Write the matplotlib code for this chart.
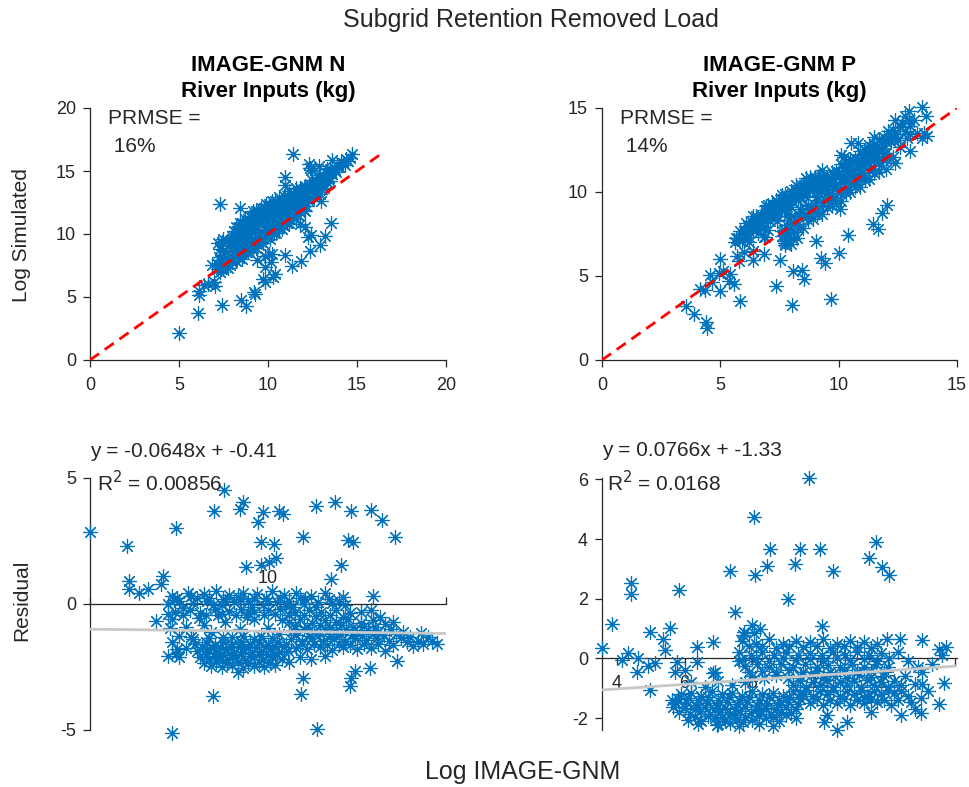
import numpy as np
import matplotlib.pyplot as plt

plt.rcParams['font.family'] = ['Liberation Sans', 'DejaVu Sans']
plt.rcParams['axes.unicode_minus'] = False

BLUE = '#0072BD'
DARK = '#262626'

# ---------------- N: (log IMAGE-GNM, residual)
n_outliers = [
    (5.0, 2.85), (6.05, 2.32), (7.41, 3.01), (6.1, 0.93), (6.1, 0.6), (6.38, 0.44),
    (6.62, 0.6), (6.99, 0.8), (7.04, 1.13), (8.77, 4.51), (8.49, 3.71), (9.2, 3.78),
    (9.29, 4.05), (9.85, 3.65), (9.71, 3.25), (10.3, 3.71), (10.42, 3.58), (9.81, 2.45),
    (10.18, 2.39), (10.23, 1.83), (10.04, 1.66), (9.81, 1.53), (9.38, 1.46), (10.98, 2.65),
    (11.36, 3.87), (11.87, 4.05), (12.34, 3.71), (12.9, 3.75), (13.19, 3.32), (13.56, 2.65),
    (12.25, 2.52), (12.39, 2.45), (12.06, 1.53), (11.78, 0.99), (12.95, 0.33), (8.45, -3.65),
    (7.3, -5.1), (11.38, -4.95), (10.93, -3.58), (10.98, -2.92), (12.34, -2.92), (12.3, -3.25),
    (12.44, -2.65), (12.86, -2.52), (13.61, -2.25), (14.74, -1.59), (14.36, -1.59),
    (14.08, -1.66), (6.85, -0.66), (7.41, -1.99),
]
n_upper = [
    (7.3, 0.3), (7.75, 0.42), (8.2, 0.38), (8.55, 0.5), (8.9, 0.35), (9.3, 0.45), (9.7, 0.4),
    (10.1, 0.52), (10.45, 0.36), (10.8, 0.44), (11.2, 0.3), (11.6, 0.42), (12.1, 0.28),
    (7.2, 0.0), (7.5, 0.1), (7.9, 0.05), (8.3, 0.12), (8.7, -0.02), (9.05, 0.08), (9.45, 0.1),
    (9.85, -0.05), (10.25, 0.06), (10.6, 0.12), (11.0, 0.0), (11.4, 0.08), (11.8, 0.02),
    (12.15, -0.05), (7.4, -0.3), (7.8, -0.22), (8.1, -0.35), (8.5, -0.2), (8.9, -0.28),
    (9.25, -0.18), (9.6, -0.32), (10.0, -0.25), (10.35, -0.2), (10.75, -0.3), (11.15, -0.22),
    (11.5, -0.3), (11.9, -0.25), (12.3, -0.35), (8.0, 0.25), (8.45, -0.05), (9.15, 0.28),
    (9.55, -0.1), (10.5, -0.08), (10.9, 0.25), (9.95, 0.22), (8.75, 0.2),
    (7.45, 0.22), (7.85, 0.3), (8.35, 0.25), (8.8, 0.1), (9.2, 0.18), (9.6, 0.25), (10.0, 0.1),
    (10.35, 0.25), (10.7, -0.12), (11.05, 0.18), (11.35, -0.1), (11.7, 0.2), (12.0, 0.1),
    (7.6, -0.45), (8.25, -0.45), (8.7, -0.4), (9.1, -0.45), (9.45, -0.35), (9.9, -0.45),
    (10.2, -0.4), (10.6, -0.45), (11.0, -0.42), (11.35, -0.48), (11.75, -0.45), (12.1, -0.5),
]
n_middle = [
    (7.3, -0.6), (7.7, -0.9), (8.05, -0.55), (8.4, -1.1), (8.8, -0.7), (9.2, -1.0), (9.6, -0.6),
    (10.0, -0.95), (10.4, -0.65), (7.5, -1.25), (8.2, -0.85), (9.0, -1.3), (9.8, -1.25),
    (10.3, -1.2), (7.9, -1.4), (8.6, -0.45), (9.4, -0.5), (7.2, -0.4), (7.25, -0.95),
    (7.3, -1.5), (7.45, -1.8), (7.2, -2.05), (7.6, -0.15), (7.35, 0.15),
    (7.85, -1.3), (8.35, -1.35), (8.75, -1.3), (9.3, -1.25), (9.6, -1.38), (10.1, -1.35),
]
n_lower = [
    (7.95, -1.6), (8.25, -1.5), (8.5, -1.62), (8.75, -1.5), (9.0, -1.58), (9.25, -1.5),
    (9.5, -1.6), (9.75, -1.52), (10.0, -1.62), (10.25, -1.5), (10.5, -1.58),
    (8.0, -1.88), (8.3, -1.8), (8.55, -1.92), (8.8, -1.82), (9.05, -1.9), (9.3, -1.8),
    (9.55, -1.9), (9.8, -1.85), (10.05, -1.8), (10.3, -1.92), (10.55, -1.85),
    (8.1, -2.12), (8.35, -2.2), (8.6, -2.1), (8.85, -2.2), (9.1, -2.15), (9.35, -2.22),
    (9.6, -2.1), (9.85, -2.2), (10.1, -2.12), (10.4, -2.2),
    (8.4, -2.45), (8.7, -2.5), (9.0, -2.42), (9.3, -2.55), (9.6, -2.45), (9.9, -2.5),
    (10.2, -2.42), (7.7, -1.75), (7.5, -2.1), (9.15, -2.7), (10.6, -2.3), (8.2, -2.35),
    (8.15, -1.7), (8.45, -1.75), (8.65, -1.7), (8.95, -1.72), (9.2, -1.68), (9.45, -1.75),
    (9.7, -1.7), (9.95, -1.72), (10.2, -1.68), (10.45, -1.72), (8.25, -2.0), (8.5, -2.05),
    (8.75, -1.98), (9.0, -2.02), (9.25, -2.0), (9.5, -2.05), (9.75, -1.98), (10.0, -2.02),
    (10.25, -2.0), (8.55, -2.32), (8.85, -2.35), (9.15, -2.3), (9.45, -2.35), (9.75, -2.32),
    (10.05, -2.35),
]
n_right = [
    (10.6, -0.7), (10.9, -0.6), (11.25, -0.75), (11.6, -0.62), (11.9, -0.72), (12.25, -0.6),
    (12.6, -0.75), (12.95, -0.65), (13.3, -0.8),
    (10.7, -1.05), (11.0, -1.0), (11.3, -1.1), (11.6, -1.0), (11.9, -1.08), (12.2, -1.0),
    (12.5, -1.1), (12.8, -1.02), (13.1, -1.1), (13.45, -1.0), (13.8, -1.1),
    (10.65, -1.4), (10.95, -1.45), (11.25, -1.35), (11.55, -1.45), (11.85, -1.38),
    (12.15, -1.45), (12.45, -1.35), (12.75, -1.42), (13.05, -1.35), (13.4, -1.45), (13.75, -1.35),
    (10.8, -1.75), (11.1, -1.8), (11.45, -1.72), (11.8, -1.82), (12.1, -1.7), (12.5, -1.8),
    (12.9, -1.75), (13.3, -1.85), (12.6, -0.3), (12.9, -0.25), (13.15, -0.5), (13.5, -0.7),
    (14.0, -1.3), (14.3, -1.15), (14.6, -1.45), (13.9, -1.5), (10.9, -2.1), (11.2, -2.2),
    (11.6, -2.05),
    (10.75, -0.88), (11.1, -0.9), (11.45, -0.85), (11.75, -0.9), (12.05, -0.85), (12.4, -0.9),
    (12.7, -0.88), (13.0, -0.9), (10.8, -1.22), (11.15, -1.25), (11.45, -1.2), (11.75, -1.25),
    (12.05, -1.2), (12.35, -1.22), (12.65, -1.25), (12.95, -1.2), (13.25, -1.22), (13.6, -1.2),
    (10.95, -1.6), (11.3, -1.58), (11.65, -1.62), (12.0, -1.58), (12.3, -1.62), (12.7, -1.6),
    (13.1, -1.6), (13.5, -1.62), (14.2, -1.45), (14.5, -1.3),
]

# ---------------- P
p_outliers = [
    (9.67, 6.04), (8.04, 4.74), (8.53, 3.68), (9.42, 3.66), (10.01, 3.66), (9.27, 3.18),
    (8.45, 3.1), (8.09, 2.79), (7.35, 2.92), (10.39, 2.92), (11.67, 3.9), (11.45, 3.37),
    (11.84, 3.07), (12.04, 2.81), (9.05, 1.98), (7.5, 1.56), (4.43, 2.54), (4.41, 2.17),
    (5.85, 2.31), (3.87, 1.14), (3.55, 0.36), (4.98, 0.87), (5.57, 1.03), (5.37, 0.65),
    (5.42, 0.28), (4.34, 0.17), (4.14, -0.06), (4.63, 0.0), (4.58, -0.45), (4.93, -0.25),
    (5.13, -0.17), (4.98, -1.06), (5.77, -0.11), (5.72, -0.45), (6.01, -0.39), (6.36, 0.39),
    (6.36, -0.11), (6.85, 0.56), (6.85, -0.5), (10.06, 1.09), (7.99, 1.11), (8.24, 1.0),
    (7.74, 0.78), (5.62, -1.39), (5.67, -1.62), (13.72, 0.39), (13.52, 0.33), (13.03, 0.61),
    (12.37, 0.65), (11.99, 0.65), (13.67, -0.84), (13.52, -1.54), (12.98, -1.84),
    (12.98, -1.32), (13.03, -0.87), (13.03, -0.45), (12.68, -1.45), (10.11, -2.12),
    (10.21, -1.9), (10.51, -2.4), (10.8, -2.12), (11.3, -1.28), (6.95, -2.23), (7.35, -2.17),
    (7.74, -2.12),
]
p_lower = [
    (5.9, -1.2), (6.2, -1.15), (6.5, -1.25), (6.8, -1.1), (7.1, -1.2), (7.4, -1.15), (7.7, -1.25),
    (8.0, -1.1), (8.3, -1.2), (8.6, -1.15), (8.9, -1.25), (9.2, -1.1), (9.5, -1.2),
    (5.75, -1.5), (6.05, -1.45), (6.35, -1.55), (6.65, -1.48), (6.95, -1.55), (7.25, -1.45),
    (7.55, -1.52), (7.85, -1.45), (8.15, -1.55), (8.45, -1.48), (8.75, -1.55), (9.05, -1.45),
    (9.35, -1.52), (5.85, -1.8), (6.15, -1.85), (6.45, -1.75), (6.75, -1.85), (7.05, -1.78),
    (7.35, -1.85), (7.65, -1.75), (7.95, -1.82), (8.25, -1.75), (8.55, -1.85), (8.85, -1.78),
    (9.15, -1.82), (6.1, -2.05), (6.5, -2.1), (6.9, -2.0), (7.2, -2.1), (7.55, -2.02),
    (8.0, -2.08), (8.4, -2.0), (8.8, -2.1), (9.3, -2.0), (6.2, -0.8), (6.6, -0.95), (7.0, -0.75),
    (7.4, -0.9), (7.8, -0.8), (6.9, -0.45),
    (5.8, -1.35), (6.1, -1.32), (6.4, -1.38), (6.7, -1.3), (7.0, -1.38), (7.3, -1.3), (7.6, -1.38),
    (7.9, -1.3), (8.2, -1.38), (8.5, -1.3), (8.8, -1.38), (9.1, -1.3), (9.4, -1.36),
    (6.0, -1.65), (6.3, -1.68), (6.6, -1.62), (6.9, -1.7), (7.2, -1.65), (7.5, -1.68),
    (7.8, -1.62), (8.1, -1.7), (8.4, -1.65), (8.7, -1.68), (9.0, -1.62), (9.3, -1.68),
    (6.3, -1.95), (6.7, -1.92), (7.1, -1.95), (7.45, -1.9), (7.8, -1.95), (8.2, -1.92),
    (8.6, -1.95), (9.0, -1.9), (6.4, -2.2), (7.0, -2.2), (7.6, -2.25), (8.2, -2.2), (8.6, -2.25),
]
p_upper = [
    (7.7, 0.6), (8.1, 0.5), (8.5, 0.65), (8.9, 0.5), (9.3, 0.6), (9.7, 0.55), (10.1, 0.65),
    (10.5, 0.5), (10.9, 0.6), (11.3, 0.55), (11.7, 0.5),
    (7.6, 0.2), (7.95, 0.1), (8.3, 0.2), (8.65, 0.1), (9.0, 0.2), (9.35, 0.12), (9.7, 0.18),
    (10.05, 0.1), (10.4, 0.2), (10.75, 0.12), (11.1, 0.2), (11.45, 0.1), (11.8, 0.18),
    (7.8, -0.25), (8.15, -0.2), (8.5, -0.3), (8.85, -0.2), (9.2, -0.28), (9.55, -0.2),
    (9.9, -0.3), (10.25, -0.22), (10.6, -0.3), (10.95, -0.2), (11.3, -0.28), (11.65, -0.2),
    (12.0, -0.3), (8.0, -0.6), (8.35, -0.65), (8.7, -0.55), (9.05, -0.65), (9.4, -0.6),
    (9.75, -0.55), (10.1, -0.65), (10.45, -0.58), (10.8, -0.65), (11.15, -0.55), (11.5, -0.62),
    (11.85, -0.58), (7.75, 0.9), (8.05, 0.85), (7.6, -0.1),
    (7.9, 0.4), (8.3, 0.42), (8.7, 0.35), (9.1, 0.4), (9.5, 0.38), (9.9, 0.42), (10.3, 0.35),
    (10.7, 0.4), (11.1, 0.38), (11.5, 0.35), (7.7, -0.05), (8.1, -0.02), (8.5, -0.08),
    (8.9, 0.0), (9.3, -0.05), (9.7, -0.02), (10.1, -0.08), (10.5, 0.0), (10.9, -0.05),
    (11.3, -0.02), (11.7, -0.08), (12.05, 0.0), (7.9, -0.45), (8.3, -0.42), (8.7, -0.45),
    (9.1, -0.4), (9.5, -0.45), (9.9, -0.42), (10.3, -0.45), (10.7, -0.4), (11.1, -0.45),
    (11.5, -0.42), (11.9, -0.45),
]
p_right = [
    (9.2, -0.9), (9.6, -0.95), (10.0, -0.88), (10.4, -0.95), (10.8, -0.9), (11.2, -0.95),
    (11.6, -0.88), (12.0, -0.95), (12.4, -0.9), (12.8, -0.85),
    (9.4, -1.2), (9.8, -1.25), (10.2, -1.2), (10.6, -1.25), (11.0, -1.18), (11.4, -1.25),
    (11.8, -1.2), (12.2, -1.15), (12.6, -1.25),
    (9.7, -1.5), (10.1, -1.55), (10.5, -1.48), (10.9, -1.55), (11.3, -1.5), (11.7, -1.45),
    (12.1, -1.55), (12.3, 0.2), (12.6, -0.1), (12.9, -0.3), (13.3, -0.2), (13.6, 0.1),
    (12.5, -0.6), (13.2, -1.1), (12.8, -1.7), (12.4, -1.9), (11.5, -1.8),
    (9.4, -0.75), (9.8, -0.78), (10.2, -0.72), (10.6, -0.78), (11.0, -0.75), (11.4, -0.72),
    (11.8, -0.78), (12.2, -0.75), (9.6, -1.05), (10.0, -1.08), (10.4, -1.05), (10.8, -1.08),
    (11.2, -1.05), (11.6, -1.08), (12.0, -1.05), (12.4, -1.08), (9.9, -1.35), (10.3, -1.4),
    (10.7, -1.35), (11.1, -1.4), (11.5, -1.35), (11.9, -1.4), (12.3, -1.38),
]

n_fit_line = (-0.017, -0.915)   # drawn trend (slope, intercept) as seen
p_fit_line = (0.0766, -1.33)
n_eq = 'y = -0.0648x + -0.41'
n_r2 = 'R$^2$ = 0.00856'
p_eq = 'y = 0.0766x + -1.33'
p_r2 = 'R$^2$ = 0.0168'
n_prmse = 'PRMSE =\n 16%'
p_prmse = 'PRMSE =\n 14%'

n_pts = np.array(n_outliers + n_upper + n_middle + n_lower + n_right)
p_pts = np.array(p_outliers + p_lower + p_upper + p_right)
n_obs, n_res = n_pts[:, 0], n_pts[:, 1]
p_obs, p_res = p_pts[:, 0], p_pts[:, 1]
n_sim = n_obs - n_res
p_sim = p_obs - p_res

W, H = 970, 787
fig = plt.figure(figsize=(W / 100, H / 100), dpi=100)


def box(l, t, r, b):
    return [l / W, 1 - b / H, (r - l) / W, (b - t) / H]


ax1 = fig.add_axes(box(90, 108, 446, 360))
ax2 = fig.add_axes(box(602, 108, 957, 360))
ax3 = fig.add_axes(box(90, 478, 446, 730))
ax4 = fig.add_axes(box(602, 478, 957, 730))

mk = dict(marker=(8, 2, 0), linestyle='none', markersize=10.5, markeredgewidth=0.85,
          color=BLUE, clip_on=False)

for ax in (ax1, ax2, ax3, ax4):
    for s in ax.spines.values():
        s.set_color(DARK)
        s.set_linewidth(0.9)
    ax.tick_params(direction='out', length=5, width=0.9, colors=DARK, labelsize=13)
    ax.tick_params(axis='x', pad=7)
    ax.tick_params(axis='y', pad=5)

# top panels
for ax, obs, sim, lim, ticks, title, txt in [
        (ax1, n_obs, n_sim, 20, [0, 5, 10, 15, 20], 'IMAGE-GNM N\nRiver Inputs (kg)', n_prmse),
        (ax2, p_obs, p_sim, 15, [0, 5, 10, 15], 'IMAGE-GNM P\nRiver Inputs (kg)', p_prmse)]:
    ax.plot(obs, sim, **mk)
    top = max(obs.max(), sim.max())
    ax.plot([0, top], [0, top], color='red', linestyle=(0, (4, 2.5)), linewidth=2, zorder=3)
    ax.set_xlim(0, lim)
    ax.set_ylim(0, lim)
    ax.set_xticks(ticks)
    ax.set_yticks(ticks)
    ax.spines['top'].set_visible(False)
    ax.spines['right'].set_visible(False)
    ax.set_title(title, fontsize=16, fontweight='bold', pad=8, linespacing=1.3)
    ax.text(0.05, 0.995, txt, transform=ax.transAxes, ha='left', va='top',
            fontsize=15, color=DARK, linespacing=1.55)

# residual N
ax3.plot(n_obs, n_res, **mk)
xs = np.array([5, 15])
ax3.plot(xs, n_fit_line[0] * xs + n_fit_line[1], color='#c8c8c8', linewidth=2, zorder=3)
ax3.set_xlim(5, 15)
ax3.set_ylim(-5, 5)
ax3.set_yticks([-5, 0, 5])
ax3.set_xticks([5, 10, 15])
ax3.set_xticklabels(['', '10', ''])
ax3.spines['top'].set_position(('data', 0))
ax3.spines['bottom'].set_visible(False)
ax3.spines['right'].set_visible(False)
ax3.xaxis.set_ticks_position('top')
ax3.text(0.0, 1.105, n_eq, transform=ax3.transAxes, ha='left', va='center', fontsize=15, color=DARK)
ax3.text(0.02, 0.98, n_r2, transform=ax3.transAxes, ha='left', va='center', fontsize=15, color=DARK)

# residual P
ax4.plot(p_obs, p_res, **mk)
xs = np.array([3.56, 14.05])
ax4.plot(xs, p_fit_line[0] * xs + p_fit_line[1], color='#c8c8c8', linewidth=2, zorder=3)
ax4.set_xlim(3.56, 14.05)
ax4.set_ylim(-2.4, 6.05)
ax4.set_yticks([-2, 0, 2, 4, 6])
ax4.set_xticks([4, 6, 8, 10, 12, 14])
ax4.set_xticklabels(['4', '6', '8', '10', '12', ''])
ax4.spines['bottom'].set_position(('data', 0))
ax4.spines['top'].set_visible(False)
ax4.spines['right'].set_visible(False)
ax4.text(0.0, 1.11, p_eq, transform=ax4.transAxes, ha='left', va='center', fontsize=15, color=DARK)
ax4.text(0.014, 0.98, p_r2, transform=ax4.transAxes, ha='left', va='center', fontsize=15, color=DARK)

for ax in (ax3, ax4):
    ax.set_axisbelow(True)
    for s in ax.spines.values():
        s.set_zorder(0.5)

fig.text(531 / W, 1 - 20 / H, 'Subgrid Retention Removed Load', ha='center', va='center',
         fontsize=18, color=DARK)
fig.text(22 / W, 1 - 235 / H, 'Log Simulated', ha='center', va='center', rotation=90,
         fontsize=15, color=DARK)
fig.text(22 / W, 1 - 600 / H, 'Residual', ha='center', va='center', rotation=90,
         fontsize=15, color=DARK)
fig.text(523 / W, 1 - 772 / H, 'Log IMAGE-GNM', ha='center', va='center',
         fontsize=18, color=DARK)

fig.savefig('out.png', dpi=100)
